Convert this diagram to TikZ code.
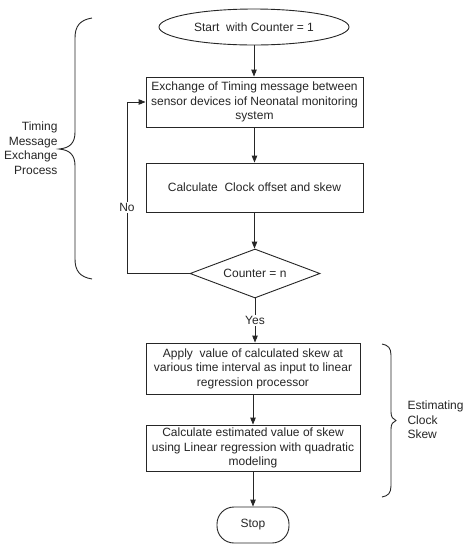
\documentclass[tikz,border=0pt]{standalone}
\usepackage{fontspec}
\setmainfont{Liberation Sans}
\usetikzlibrary{shapes.geometric,arrows.meta}
\begin{document}
\begin{tikzpicture}[x=1pt,y=-1pt,
  every node/.style={font=\fontsize{12}{14.5}\selectfont, text=black!85},
  line/.style={draw=black!85, line width=0.9pt},
  flowbox/.style={line, rectangle, align=center, inner sep=0pt},
  arr/.style={line, -{Triangle[length=7pt,width=5.5pt]}},
  lbl/.style={fill=white, inner sep=1pt},
  bracel/.style={draw=black!85, line width=0.9pt}]
\useasboundingbox[fill=white] (0,0) rectangle (469,550);
\node[line, ellipse, minimum width=190pt, minimum height=36pt, inner sep=0pt] (start) at (254,27) {Start\ \ with Counter = 1};
\node[flowbox, minimum width=217pt, minimum height=50pt] (b1) at (254.5,102) {Exchange of Timing message between\\sensor devices iof Neonatal monitoring\\system};
\node[flowbox, minimum width=217pt, minimum height=49pt] (b2) at (254.5,187.5) {Calculate\ \ Clock offset and skew};
\node[line, diamond, aspect=2.65, minimum width=130pt, minimum height=49pt, inner sep=0pt] (d) at (255,273.5) {Counter = n};
\node[flowbox, minimum width=214pt, minimum height=51pt] (b3) at (253,368.5) {Apply\ \ value of calculated skew at\\various time interval as input to linear\\regression processor};
\node[flowbox, minimum width=214pt, minimum height=46pt] (b4) at (253,448) {Calculate estimated value of skew\\using Linear regression with quadratic\\modeling};
\node[line, rectangle, rounded corners=17pt, minimum width=72pt, minimum height=36pt, inner sep=0pt] (stop) at (253,525) {Stop};

\draw[arr] (start.south) -- (start.south |- b1.north);
\draw[arr] (b1.south) -- (b1.south |- b2.north);
\draw[arr] (b2.south) -- (b2.south |- d.north);
\draw[arr] (d.south) -- node[lbl] (yes) {Yes} (d.south |- b3.north);
\draw[arr] (b3.south) -- (b3.south |- b4.north);
\draw[arr] (b4.south) -- (b4.south |- stop.north);
\coordinate (nb) at (127,273.5);
\coordinate (nt) at (127,102);
\draw[arr] (d.west) -- (nb) -- node[lbl, pos=0.385] (no) {No} (nt) -- (b1.west);

% left brace
\draw[bracel] (92,18) .. controls (80,20) and (75,26) .. (75,38) -- (75,132)
  .. controls (75,143) and (70,148) .. (59,149)
  .. controls (70,150) and (75,155) .. (75,166) -- (75,259)
  .. controls (75,271) and (80,277) .. (92,279);
\node[align=right, anchor=east] (ltxt) at (61,148) {Timing\\Message\\Exchange\\Process};
% right brace
\draw[bracel] (382,344) .. controls (388,345) and (391,348) .. (391,355) -- (391,412)
  .. controls (391,417) and (393,419.5) .. (396,420.5)
  .. controls (393,421.5) and (391,424) .. (391,429) -- (391,486)
  .. controls (391,493) and (388,496) .. (382,497);
\node[align=left, anchor=west] (rtxt) at (404,420) {Estimating\\Clock\\Skew};
\end{tikzpicture}
\end{document}
